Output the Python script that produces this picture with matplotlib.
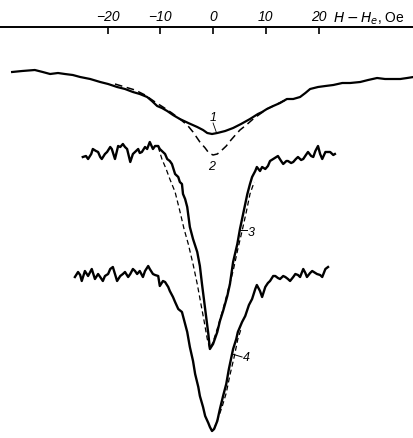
import matplotlib.pyplot as plt

plt.rcParams['font.family'] = ['Liberation Sans', 'DejaVu Sans']

# Field offset H - He (Oe) and signal (arb. units) for each trace
h1 = [-38.1, -36.2, -33.8, -32.3, -30.9, -29.4, -28.1, -26.6, -25.2, -23.3, -21.4, -19.9,
      -18.2, -16.7, -15.2, -13.9, -12.5, -11.6, -10.6, -9.7, -8.7, -7.6, -6.3, -4.7, -3.0,
      -1.9, -1.1, -0.2, 0.8, 2.3, 3.8, 5.3, 7.0, 8.5, 9.3, 10.2, 11.4, 12.7, 14.0, 15.2,
      16.5, 17.5, 18.4, 19.9, 21.3, 22.8, 24.5, 26.0, 27.9, 29.4, 31.1, 32.6, 34.2, 35.5,
      36.8, 38.0]
s1 = [36.6, 36.7, 36.8, 36.6, 36.4, 36.5, 36.4, 36.3, 36.1, 35.9, 35.6, 35.4, 35.1, 34.9,
      34.6, 34.4, 34.1, 33.7, 33.2, 33.0, 32.7, 32.3, 31.9, 31.5, 31.1, 30.8, 30.5, 30.4,
      30.5, 30.7, 31.0, 31.4, 31.9, 32.4, 32.6, 32.9, 33.2, 33.5, 33.9, 33.9, 34.1, 34.5,
      34.9, 35.1, 35.2, 35.3, 35.5, 35.5, 35.6, 35.8, 36.0, 35.9, 35.9, 35.9, 36.0, 36.1]

h2 = [-18.6, -16.7, -14.8, -12.9, -11.0, -9.5, -7.8, -6.3, -4.9, -3.8, -2.5, -1.5, -0.8,
      0.0, 0.8, 1.5, 2.5, 3.4, 4.4, 5.1, 6.3, 7.6, 8.9, 10.2, 11.8, 13.3, 14.6]
s2 = [35.4, 35.1, 34.8, 34.3, 33.6, 33.1, 32.5, 31.9, 31.3, 30.6, 29.6, 29.0, 28.5, 28.3,
      28.4, 28.7, 29.2, 29.8, 30.4, 30.8, 31.3, 31.9, 32.4, 32.9, 33.3, 33.7, 33.9]

h3 = [-24.7, -24.1, -23.7, -23.1, -22.8, -22.2, -21.8, -21.4, -21.1, -20.5, -20.1, -19.5,
      -19.2, -18.6, -18.0, -17.6, -17.1, -16.7, -16.3, -15.7, -15.2, -14.6, -14.2, -13.9,
      -13.5, -12.9, -12.5, -12.0, -11.4, -11.0, -10.4, -10.1, -9.7, -9.1, -8.7, -8.2, -7.8,
      -7.2, -6.6, -6.3, -5.9, -5.7, -5.3, -4.9, -4.4, -3.8, -3.0, -2.5, -2.1, -1.5, -0.9,
      -0.6, 0.0, 0.8, 1.3, 1.9, 2.7, 3.2, 3.8, 4.6, 5.1, 5.7, 6.5, 7.0, 7.4, 8.0, 8.3, 8.9,
      9.3, 9.9, 10.4, 10.8, 11.4, 12.0, 12.3, 12.9, 13.3, 13.9, 14.2, 14.8, 15.2, 15.7,
      16.1, 16.7, 17.1, 17.6, 18.0, 18.6, 19.0, 19.4, 19.9, 20.3, 20.7, 21.3, 21.8, 22.2,
      22.8, 23.1]
s3 = [28.1, 28.2, 27.9, 28.4, 28.9, 28.7, 28.6, 28.1, 27.9, 28.4, 28.6, 29.1, 28.9, 27.9,
      29.2, 29.1, 29.4, 29.1, 28.9, 27.6, 28.4, 28.7, 28.9, 28.5, 28.6, 29.1, 28.9, 29.6,
      28.9, 29.2, 29.2, 28.9, 28.7, 28.4, 27.9, 27.7, 27.4, 26.4, 26.1, 25.6, 25.4, 24.4,
      23.9, 23.1, 21.1, 19.9, 18.6, 17.2, 15.4, 12.9, 10.4, 8.9, 9.4, 10.6, 11.7, 12.7,
      14.2, 15.4, 17.6, 19.4, 20.9, 22.4, 24.4, 25.4, 26.1, 26.7, 27.1, 26.7, 27.1, 26.9,
      27.2, 27.7, 27.9, 28.1, 28.2, 27.7, 27.4, 27.7, 27.7, 27.5, 27.6, 27.9, 28.1, 27.8,
      27.9, 28.3, 28.6, 28.2, 28.1, 28.7, 29.2, 28.4, 27.9, 28.6, 28.6, 28.6, 28.3, 28.4]

h3_calc = [-10.4, -9.7, -8.9, -8.2, -7.2, -6.3, -5.5, -4.7, -3.8, -3.0, -2.3, -1.7, -1.1,
           -0.6, 0.0, 0.9, 1.9, 2.8, 3.8, 4.7, 5.5, 6.3, 7.0, 7.8]
s3_calc = [29.1, 27.9, 26.9, 25.9, 24.6, 22.7, 20.9, 19.4, 17.4, 15.4, 13.4, 11.7, 9.9,
           8.9, 9.6, 11.1, 12.9, 14.7, 16.7, 18.9, 20.7, 22.6, 24.4, 25.6]

h4 = [-26.2, -25.6, -25.2, -24.9, -24.3, -23.7, -23.3, -23.0, -22.4, -21.8, -21.4, -20.9,
      -20.5, -19.9, -19.5, -19.0, -18.6, -18.2, -17.6, -17.1, -16.7, -16.1, -15.7, -15.2,
      -14.8, -14.4, -13.9, -13.3, -12.9, -12.3, -12.0, -11.4, -11.0, -10.4, -10.1, -9.5,
      -9.1, -8.5, -8.2, -7.6, -7.2, -6.6, -5.9, -5.3, -4.9, -4.4, -3.8, -3.4, -2.8, -2.5,
      -1.9, -1.5, -0.9, -0.6, -0.2, 0.2, 0.8, 1.3, 1.9, 2.5, 3.0, 3.8, 4.4, 4.7, 5.5, 6.1,
      6.8, 7.4, 8.0, 8.3, 8.9, 9.3, 9.9, 10.4, 10.8, 11.4, 11.8, 12.3, 12.7, 13.3, 13.7,
      14.2, 14.6, 15.2, 15.6, 16.1, 16.5, 17.1, 17.5, 17.8, 18.4, 18.8, 19.4, 19.7, 20.3,
      20.7, 21.3, 21.8]
s4 = [16.1, 16.6, 16.3, 15.7, 16.7, 16.2, 16.6, 16.9, 15.9, 16.4, 16.1, 15.7, 16.2, 16.4,
      16.9, 17.1, 16.4, 15.7, 16.2, 16.4, 16.6, 16.1, 16.4, 16.9, 16.7, 16.4, 16.7, 16.1,
      16.7, 17.2, 16.9, 16.4, 16.3, 16.2, 15.2, 15.7, 15.6, 15.1, 14.7, 14.1, 13.6, 12.9,
      12.6, 11.4, 10.6, 9.1, 7.7, 6.4, 5.1, 4.2, 3.1, 2.2, 1.5, 1.1, 0.7, 0.9, 1.7, 2.9,
      4.2, 5.4, 6.9, 8.9, 9.9, 10.6, 11.6, 12.2, 13.3, 13.9, 14.9, 15.3, 14.7, 14.1, 15.1,
      15.5, 15.7, 16.2, 16.2, 16.0, 15.9, 16.2, 16.1, 15.9, 15.7, 16.1, 16.4, 16.3, 16.1,
      16.9, 16.5, 16.1, 16.5, 16.7, 16.5, 16.4, 16.3, 16.1, 16.9, 17.1]

h4_calc = [0.2, 0.9, 1.7, 2.5, 3.2, 4.0, 4.7, 5.3]
s4_calc = [0.9, 1.9, 3.1, 4.5, 6.3, 8.1, 9.9, 10.9]

field_ticks = [-20, -10, 0, 10, 20]

fig = plt.figure(figsize=(4.14, 4.39), dpi=100)
ax = fig.add_axes([0, 0, 1, 1 - 28 / 439])

# Measured traces (solid) and computed lines (dashed)
ax.plot(h1, s1, color='black', lw=1.6)
ax.plot(h2, s2, color='black', lw=1.1, dashes=(5, 3))
ax.plot(h3, s3, color='black', lw=1.7)
ax.plot(h3_calc, s3_calc, color='black', lw=0.9, dashes=(4, 2.5))
ax.plot(h4, s4, color='black', lw=1.7)
ax.plot(h4_calc, s4_calc, color='black', lw=0.9, dashes=(4, 2.5))

# Curve numbers with short leaders
lbl = dict(fontsize=9, fontstyle='italic', ha='center', va='center')
ax.text(0.0, 32.1, '1', **lbl)
ax.plot([0.0, 0.6], [31.5, 30.6], color='black', lw=0.6)
ax.text(-0.2, 27.2, '2', **lbl)
ax.text(7.3, 20.6, '3', **lbl)
ax.plot([5.1, 6.5], [20.8, 20.8], color='black', lw=0.7)
ax.text(6.3, 8.1, '4', **lbl)
ax.plot([3.6, 5.5], [8.4, 8.1], color='black', lw=0.7)

# Field scale along the top
ax.set_xlim(-40.4, 38.1)
ax.set_ylim(0, 41.1)
for side in ['left', 'right', 'bottom']:
    ax.spines[side].set_visible(False)
ax.spines['top'].set_linewidth(1.4)
ax.set_yticks([])
ax.set_xticks(field_ticks)
ax.set_xticklabels([f'{t:d}'.replace('-', '\u2212') for t in field_ticks],
                   fontstyle='italic', fontsize=10)
ax.tick_params(axis='x', top=True, bottom=False, labeltop=True, labelbottom=False,
               direction='in', length=5, width=1.2, pad=3)
ax.text(36.3, 42.0, r'$H-H_e$, Oe', fontsize=10, ha='right', va='center', clip_on=False)

plt.savefig('out.png', dpi=100)
